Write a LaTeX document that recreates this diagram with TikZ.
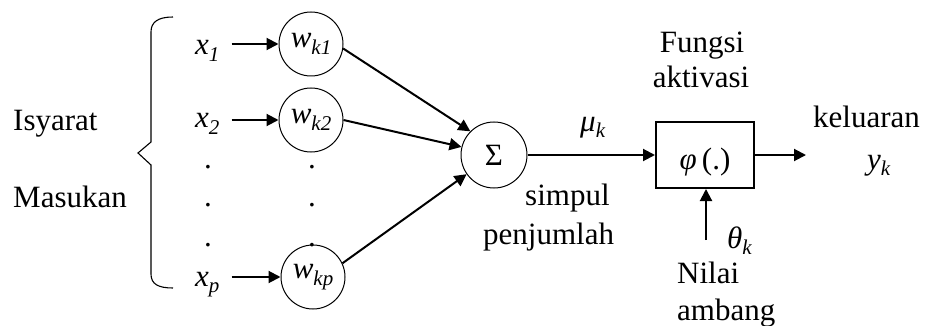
\documentclass[tikz,border=0pt]{standalone}
\usepackage{fontspec}
\setmainfont{Liberation Serif}
\usetikzlibrary{arrows.meta}
\newcommand{\sbs}[2]{\textit{#1}\raisebox{-0.22em}{\fontsize{21}{21}\selectfont\textit{#2}}}
\begin{document}
\begin{tikzpicture}[x=1pt,y=-1pt,
  lbl/.style={inner sep=0pt,font=\fontsize{31}{36}\selectfont},
  wcirc/.style={circle,draw,line width=1pt,minimum size=64pt,inner sep=0pt,font=\fontsize{31}{36}\selectfont},
  arr/.style={line width=2pt,-{Triangle[length=12pt,width=12pt]}},
  brace/.style={line width=1.1pt}]
\useasboundingbox (0,0) rectangle (925,326);
% left labels
\node[lbl,anchor=base west] (isy) at (13,130) {Isyarat};
\node[lbl,anchor=base west] (mas) at (13,207) {Masukan};
% brace
\draw[brace] (173,17) .. controls (158,17) and (151,22) .. (151,32) -- (151,142) -- (138,153) -- (151,165) -- (151,274) .. controls (151,284) and (158,288) .. (173,288);
% inputs
\node[lbl,anchor=base west] (x1) at (195,55) {\sbs{x}{1}};
\node[lbl,anchor=base west] (x2) at (195,128) {\sbs{x}{2}};
\node[lbl,anchor=base west] (xp) at (195,286) {\sbs{x}{p}};
\node[lbl] (d1) at (208,167) {.};
\node[lbl] (d2) at (208,205) {.};
\node[lbl] (d3) at (208,245) {.};
% weights
\node[wcirc] (w1) at (311,44) {\sbs{w}{k1}};
\node[wcirc] (w2) at (311,120) {\sbs{w}{k2}};
\node[wcirc] (wp) at (313,277) {\sbs{w}{kp}};
\node[lbl] (e1) at (312,167) {.};
\node[lbl] (e2) at (312,205) {.};
\node[lbl] (e3) at (312,245) {.};
\draw[arr] ([xshift=12pt]x1.east |- w1.west) -- (w1.west);
\draw[arr] ([xshift=12pt]x2.east |- w2.west) -- (w2.west);
\draw[arr] ([xshift=12pt]xp.east |- wp.west) -- (wp.west);
% summation
\node[wcirc,minimum size=66pt] (sig) at (494,155) {Σ};
\draw[arr] (w1.-8) -- (sig.135);
\draw[arr] (w2.east) -- (sig.166);
\draw[arr] (wp.25) -- (sig.215);
\node[lbl,anchor=base west] (mu) at (580,131) {\sbs{μ}{k}};
\node[lbl,anchor=base west] (simp) at (525,205) {simpul};
\node[lbl,anchor=base west] (penj) at (483,244) {penjumlah};
% activation
\node[draw,line width=2pt,minimum width=98pt,minimum height=66pt,inner sep=0pt] (box) at (705,155) {};
\node[lbl,anchor=base] (phi) at (705,169) {\textit{φ}\,(.)};
\draw[arr] (sig.east) -- (box.west);
\node[lbl,anchor=base] (fun) at (702,53) {Fungsi};
\node[lbl,anchor=base] (akt) at (701,88) {aktivasi};
\coordinate (out) at (806,155);
\draw[arr] (box.east) -- (out);
\node[lbl,anchor=base west] (kel) at (813,128) {keluaran};
\node[lbl,anchor=base west] (yk) at (867,169) {\sbs{y}{k}};
% threshold
\coordinate (th) at (706,240);
\draw[arr] (th) -- (th |- box.south);
\node[lbl,anchor=base west] (tk) at (727,248) {\sbs{θ}{k}};
\node[lbl,anchor=base west] (nil) at (677,283) {Nilai};
\node[lbl,anchor=base west] (amb) at (677,320) {ambang};
\end{tikzpicture}
\end{document}
